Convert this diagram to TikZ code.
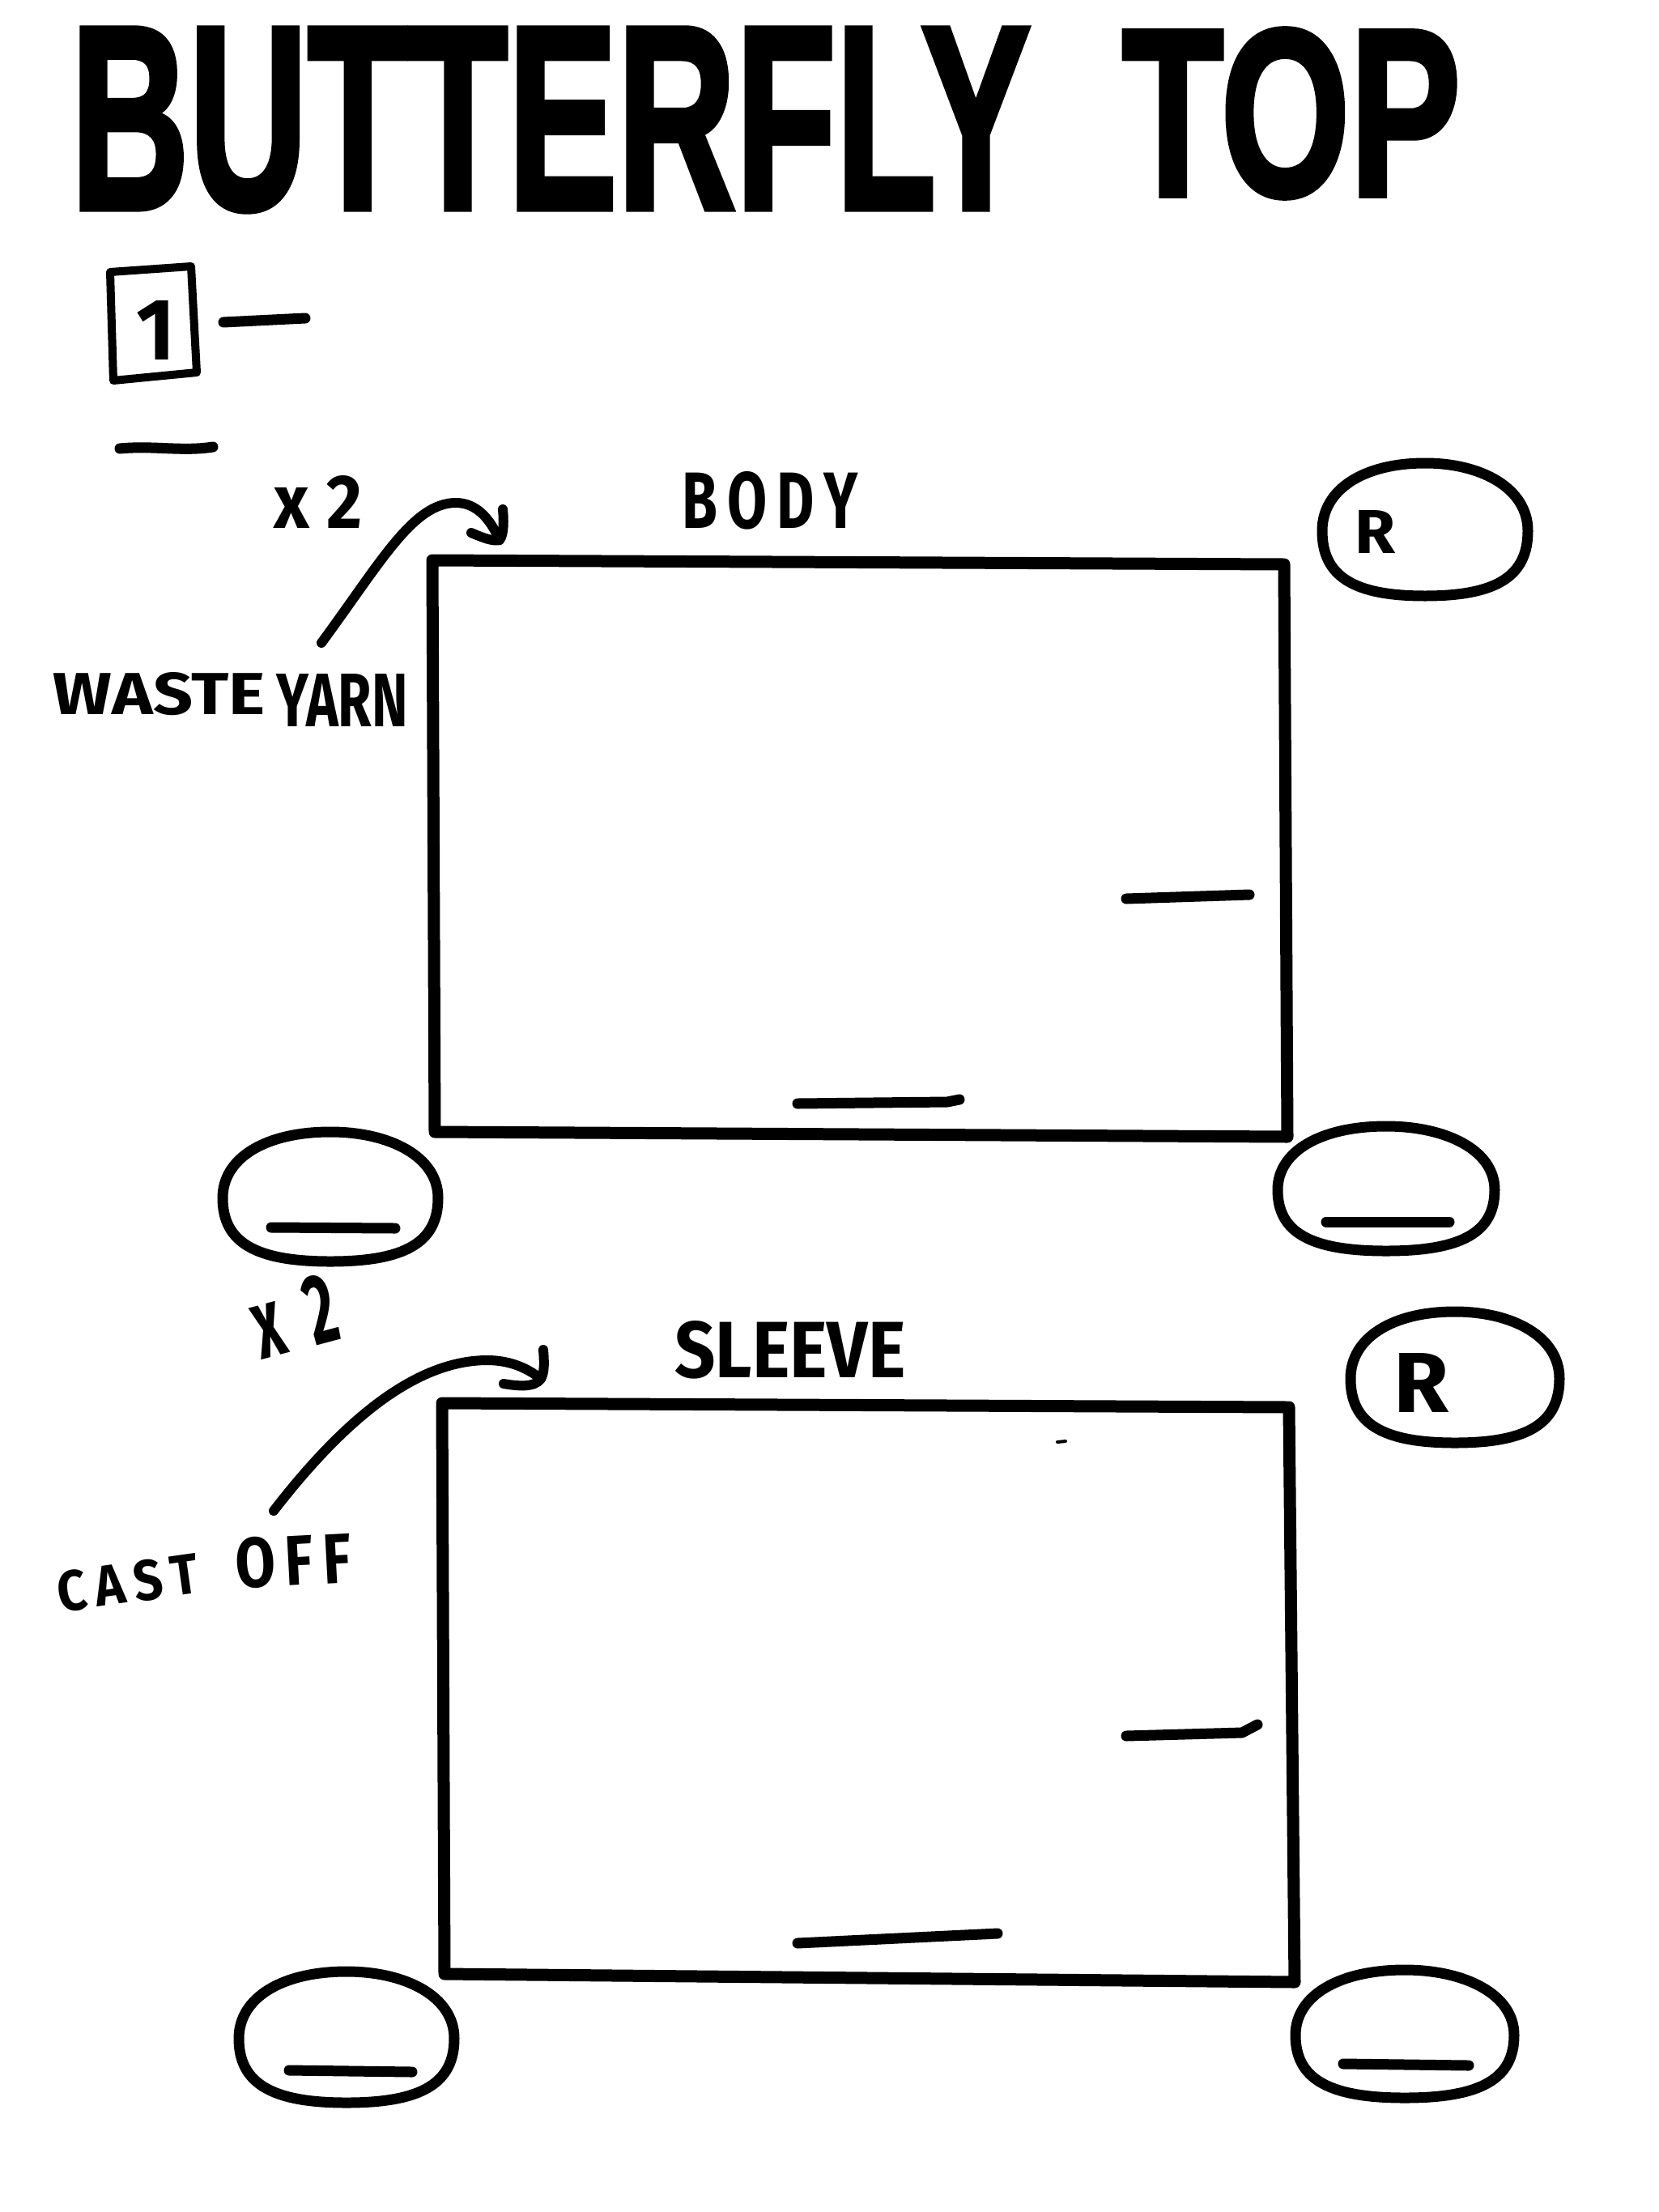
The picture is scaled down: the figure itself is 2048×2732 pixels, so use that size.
\documentclass[tikz,border=0pt]{standalone}
\usepackage{fontspec}
\usepackage{graphicx}
\newfontface\titlefont{Liberation Sans Bold}[FakeBold=2.5]
\newfontfamily\handfont{Fira Sans}
\tikzset{
  frame/.style={line width=15pt, line cap=round, line join=round},
  ovalline/.style={line width=13pt, line join=round},
  dashline/.style={line width=13pt, line cap=round, line join=round},
  curveline/.style={line width=12pt, line cap=round, line join=round},
  lbl/.style={inner sep=0pt, font=\handfont\bfseries},
  ttl/.style={inner sep=0pt, font=\titlefont},
  blob/.pic={\draw[ovalline] (-1,0.02) .. controls (-1,-0.6) and (-0.6,-1) .. (0,-1)
     .. controls (0.55,-1) and (1,-0.62) .. (1,0.02)
     .. controls (1,0.7) and (0.7,1) .. (0,1)
     .. controls (-0.7,1) and (-1,0.7) .. (-1,0.02) -- cycle;}
}
\begin{document}
\begin{tikzpicture}[x=1pt,y=-1pt]
\fill[white] (0,0) rectangle (2048,2732);
\useasboundingbox (0,0) rectangle (2048,2732);

% title
\node[ttl] (ttlA) at (680,148) {\resizebox{1185pt}{222pt}{BUTTERFLY}};
\node[ttl] (ttlB) at (1595,140) {\resizebox{418pt}{205pt}{TOP}};

% step number box
\node[lbl] (one) at (193,408) {\resizebox{48pt}{73pt}{1}};
\draw[line width=10pt, line join=round, line cap=round] (136,336) -- (236,329) -- (243,460) -- (140,470) -- cycle;
\draw[dashline] (276,398) -- (377,393);
\draw[dashline] (148,554) .. controls (190,550) and (225,558) .. (263,552);

% ---------- BODY ----------
\node[lbl] (x2a) at (393,620) {\resizebox{109pt}{65pt}{x\hspace{0.25em}2}};
\node[lbl] (body) at (951,618) {\resizebox{217pt}{70pt}{B\,O\,D\,Y}};
\node[lbl] (waste) at (197,857) {\resizebox{262pt}{52pt}{WASTE}};
\node[lbl] (yarn) at (423,865) {\resizebox{162pt}{65pt}{YARN}};

\coordinate (b1) at (534,692);
\coordinate (b2) at (1586,697);
\coordinate (b3) at (1590,1404);
\coordinate (b4) at (537,1398);
\draw[frame] (b1) -- (b2) -- (b3) -- (b4) -- cycle;

\coordinate (c1s) at (397,794);
\coordinate (c1e) at (617,667);
\draw[curveline] (c1s) .. controls (470,695) and (510,621) .. (563,621) .. controls (588,621) and (605,640) .. (c1e);
\draw[curveline] (582,658) .. controls (598,665) and (610,669) .. (c1e) .. controls (623,660) and (622,640) .. (621,629);

\path (1760,654) pic[xscale=127,yscale=82] {blob};
\node[lbl] (rbody) at (1698,657) {\resizebox{50pt}{53pt}{R}};

\draw[dashline] (1391,1110) -- (1543,1105);
\draw[dashline] (985,1363) -- (1170,1361) -- (1185,1358);

\path (408,1478) pic[xscale=133,yscale=80] {blob};
\draw[dashline] (335,1516) -- (488,1517);
\path (1712,1468) pic[xscale=134,yscale=77] {blob};
\draw[dashline] (1638,1509) -- (1790,1509);

% ---------- SLEEVE ----------
\node[lbl, rotate=15] (x2b) at (363,1625) {\resizebox{104pt}{85pt}{x\hspace{0.45em}2}};
\node[lbl] (sleeve) at (976,1667) {\resizebox{285pt}{70pt}{SLEEVE}};
\node[lbl, rotate=8] (cast) at (158,1955) {\resizebox{175pt}{50pt}{C\,A\,S\,T}};
\node[lbl, rotate=3] (off) at (362,1928) {\resizebox{143pt}{62pt}{O\,F\,F}};

\coordinate (s1) at (546,1733);
\coordinate (s2) at (1592,1738);
\coordinate (s3) at (1599,2448);
\coordinate (s4) at (549,2438);
\draw[frame] (s1) -- (s2) -- (s3) -- (s4) -- cycle;

\coordinate (c2s) at (338,1866);
\coordinate (c2e) at (668,1703);
\draw[curveline] (c2s) .. controls (420,1760) and (510,1680) .. (602,1680) .. controls (630,1680) and (652,1690) .. (c2e);
\draw[curveline] (622,1709) .. controls (640,1712) and (660,1714) .. (c2e) .. controls (673,1695) and (672,1680) .. (671,1667);

\draw[line width=4pt, line cap=round] (1306,1781) -- (1316,1780);

\path (1797,1701) pic[xscale=129,yscale=81] {blob};
\node[lbl] (rsleeve) at (1756,1708) {\resizebox{68pt}{73pt}{R}};

\draw[dashline] (1391,2144) -- (1534,2140) -- (1553,2130);
\draw[dashline] (985,2400) -- (1232,2388);

\path (428,2516) pic[xscale=133,yscale=81] {blob};
\draw[dashline] (357,2557) -- (509,2559);
\path (1735,2512) pic[xscale=135,yscale=79] {blob};
\draw[dashline] (1659,2549) -- (1814,2551);
\end{tikzpicture}
\end{document}
